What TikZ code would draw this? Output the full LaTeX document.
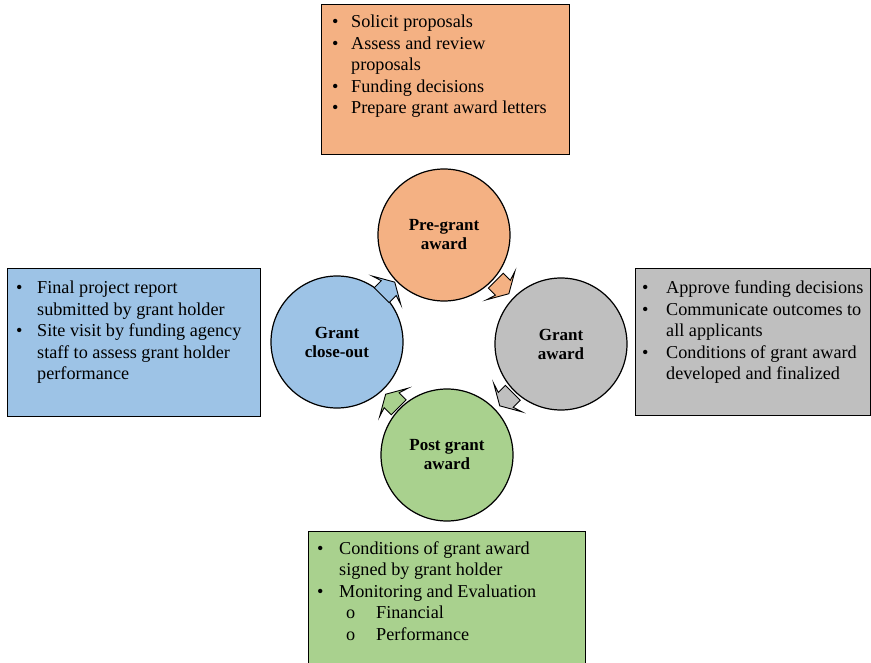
\documentclass[tikz,border=0pt]{standalone}
\usepackage{fontspec}
\setmainfont{Liberation Serif}
\usetikzlibrary{calc}
\definecolor{orangeF}{RGB}{244,177,131}
\definecolor{grayF}{RGB}{191,191,191}
\definecolor{blueF}{RGB}{157,195,230}
\definecolor{greenF}{RGB}{169,209,142}
\newcommand{\bl}[2]{\makebox[#1][l]{\textbullet}#2}
\newcommand{\cn}[2]{\hspace*{#1}#2}
\begin{document}
\begin{tikzpicture}[x=1pt,y=-1pt,
  box/.style={draw=black, line width=0.9pt, minimum width=#1, inner sep=0pt},
  circ/.style={circle, draw=black, line width=1.2pt, minimum size=132pt, inner sep=0pt,
    font=\bfseries\fontsize{17}{19}\selectfont, align=center},
  txt/.style={anchor=base west, inner sep=0pt, font=\fontsize{18.2}{21.5}\selectfont},
  cyc/.pic={\path[draw=black, line width=0.9pt, fill=#1, shift={(0,-1.5)}, line join=miter]
     (-11,-10.5) -- (-1,-10.5) -- (-4,-20) -- (7.5,0) -- (-4,20) -- (-1,10.5) -- (-11,10.5) -- cycle;}
]
\useasboundingbox (0,0) rectangle (871,663);

% boxes
\node[box=248pt, minimum height=150pt, fill=orangeF] (tbox) at (445,79) {};
\node[box=253pt, minimum height=148pt, fill=blueF] (lbox) at (133.5,342) {};
\node[box=235pt, minimum height=147pt, fill=grayF] (rbox) at (752.5,341.5) {};
\node[box=277pt, minimum height=136pt, fill=greenF] (bbox) at (446.5,599) {};

% texts
\node[txt] (ttxt) at (332,28) {\begin{tabular}[t]{@{}l@{}}
\bl{19pt}{Solicit proposals}\\
\bl{19pt}{Assess and review}\\
\cn{19pt}{proposals}\\
\bl{19pt}{Funding decisions}\\
\bl{19pt}{Prepare grant award letters}
\end{tabular}};

\node[txt] (ltxt) at (16,294) {\begin{tabular}[t]{@{}l@{}}
\bl{21pt}{Final project report}\\
\cn{21pt}{submitted by grant holder}\\
\bl{21pt}{Site visit by funding agency}\\
\cn{21pt}{staff to assess grant holder}\\
\cn{21pt}{performance}
\end{tabular}};

\node[txt] (rtxt) at (642,294) {\begin{tabular}[t]{@{}l@{}}
\bl{24pt}{Approve funding decisions}\\
\bl{24pt}{Communicate outcomes to}\\
\cn{24pt}{all applicants}\\
\bl{24pt}{Conditions of grant award}\\
\cn{24pt}{developed and finalized}
\end{tabular}};

\node[txt] (btxt) at (317,554) {\begin{tabular}[t]{@{}l@{}}
\bl{22pt}{Conditions of grant award}\\
\cn{22pt}{signed by grant holder}\\
\bl{22pt}{Monitoring and Evaluation}\\
\hspace*{29pt}\makebox[30pt][l]{o}Financial\\
\hspace*{29pt}\makebox[30pt][l]{o}Performance
\end{tabular}};

% circles
\node[circ, fill=orangeF] (pre) at (444,235) {Pre-grant\\award};
\node[circ, fill=grayF] (award) at (561,344) {Grant\\award};
\node[circ, fill=greenF] (post) at (447,455) {Post grant\\award};
\node[circ, fill=blueF] (close) at (337,342) {Grant\\close-out};

% cycle arrows
\pic[rotate=45] at ($(close)!0.5!(pre)$) {cyc=blueF};
\pic[rotate=-45] at ($(pre)!0.5!(award)$) {cyc=orangeF};
\pic[rotate=-135] at ($(award)!0.5!(post)$) {cyc=grayF};
\pic[rotate=135] at ($(post)!0.5!(close)$) {cyc=greenF};
\end{tikzpicture}
\end{document}
